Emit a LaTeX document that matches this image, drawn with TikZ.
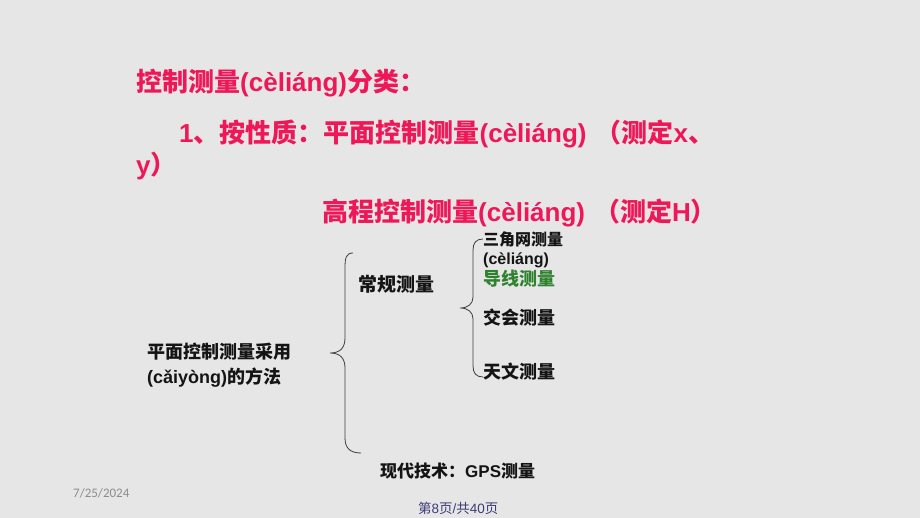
\documentclass[tikz,border=0pt]{standalone}
\usepackage{fontspec}
\setmainfont{Liberation Sans}
\newfontfamily\cjk{Noto Sans CJK SC}
\newfontfamily\datefont{Carlito}
\definecolor{bgc}{RGB}{231,230,230}
\definecolor{redc}{RGB}{238,24,88}
\definecolor{greenc}{RGB}{46,130,46}
\definecolor{blackc}{RGB}{20,20,20}
\definecolor{bracec}{RGB}{60,60,60}
\definecolor{datec}{RGB}{140,140,140}
\definecolor{pagec}{RGB}{60,60,120}
\newcommand\zh[1]{{\cjk #1}}
\begin{document}
\begin{tikzpicture}[x=1pt,y=-1pt,
  txt/.style={anchor=base west, inner sep=0pt},
  sz/.style={font=\bfseries\fontsize{#1}{#1}\selectfont},
  redtxt/.style={txt, text=redc, sz=26},
  blk/.style={txt, text=blackc},
  bracepath/.style={draw=bracec, line width=0.8pt}]
\fill[bgc] (0,0) rectangle (920,518);
\useasboundingbox (0,0) rectangle (920,518);

\node[redtxt] (title) at (136,92) {\zh{控制测量}(cèliáng)\zh{分类：}};
\node[redtxt] (line2) at (179,143) {1\zh{、按性质：平面控制测量}(cèliáng)\hspace{9pt}\zh{（测定}x\zh{、}};
\node[redtxt] (line2b) at (136,175) {y\zh{）}};
\node[redtxt] (line3) at (322,222) {\zh{高程控制测量}(cèliáng)\hspace{9pt}\zh{（测定}H\zh{）}};

\node[blk, sz=18] (m1) at (147,358) {\zh{平面控制测量采用}};
\node[blk, sz=18] (m2) at (147,383) {(cǎiyòng)\zh{的方法}};
\node[blk, sz=19] (cg) at (358,291) {\zh{常规测量}};
\node[blk, sz=16] (sj) at (483,246) {\zh{三角网测量}};
\node[blk, sz=16] (sj2) at (483,265) {(cèliáng)};
\node[txt, text=greenc, sz=18] (dx) at (483,286) {\zh{导线测量}};
\node[blk, sz=18] (jh) at (483,324) {\zh{交会测量}};
\node[blk, sz=18] (tw) at (483,378) {\zh{天文测量}};
\node[blk, sz=17] (gps) at (380,477) {\zh{现代技术：}GPS\zh{测量}};

\node[txt, text=datec, font=\datefont\fontsize{13}{13}\selectfont] (date) at (73,497) {7/25/2024};
\node[txt, text=pagec, font=\fontsize{13.5}{13.5}\selectfont] (page) at (418,513) {\zh{第}8\zh{页}/\zh{共}40\zh{页}};

\path[bracepath] (353,253) .. controls (346,253) and (345,258) .. (345,268) -- (345,338)
  .. controls (345,348) and (340,353) .. (330,353)
  .. controls (340,353) and (345,358) .. (345,368) -- (345,438)
  .. controls (345,448) and (350,453) .. (361,453);
\path[bracepath] (483,239) .. controls (476,239) and (473,243) .. (473,250) -- (473,297)
  .. controls (473,304) and (468,308) .. (460,308)
  .. controls (468,308) and (473,312) .. (473,319) -- (473,366)
  .. controls (473,373) and (476,377) .. (483,377);
\end{tikzpicture}
\end{document}
